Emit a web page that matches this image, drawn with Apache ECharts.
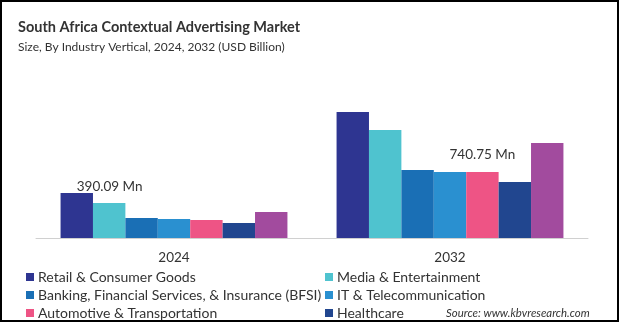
<!DOCTYPE html>
<html><head><meta charset="utf-8">
<script src="https://cdn.jsdelivr.net/npm/echarts@6/dist/echarts.min.js"></script>
<style>html,body{margin:0;padding:0;background:#fff}#c{width:620px;height:323px}</style>
</head><body><div id="c"></div>
<script>
const categories = ['2024', '2032'];
const seriesNames = ['Retail & Consumer Goods', 'Media & Entertainment', 'Banking, Financial Services, & Insurance (BFSI)', 'IT & Telecommunication', 'Automotive & Transportation', 'Healthcare', 'Others'];
const colors = ['#2E3591', '#4FC3CF', '#1A6FB5', '#2A90D0', '#EE5485', '#21468F', '#A24B9E'];
const retail = [390.09, 1092];
const media = [303, 936];
const bfsi = [173, 589];
const it = [165, 572];
const auto = [156, 572];
const health = [130, 485];
const others = [225, 823];
const values = [retail, media, bfsi, it, auto, health, others];
const annotations = [{s: 0, c: 0, text: '390.09 Mn'}, {s: 4, c: 1, text: '740.75 Mn'}];

const chart = echarts.init(document.getElementById('c'));
const font = 'Lato, "Open Sans", sans-serif';
const series = values.map((v, i) => ({
  name: seriesNames[i], type: 'bar', barGap: '0%', barCategoryGap: '17.8%',
  itemStyle: {color: colors[i]},
  data: v.map((val, c) => {
    const a = annotations.find(x => x.s === i && x.c === c);
    if (!a) return val;
    return {value: val, label: {show: true, position: 'top',
      align: i === 0 ? 'left' : 'center',
      distance: i === 0 ? -1 : 10,
      formatter: a.text, color: '#333', fontSize: 13.5, fontFamily: font}};
  })
}));
const legendText = {fontSize: 14, color: '#333', lineHeight: 14, fontFamily: font, padding: [0, 0, 0, -1]};
chart.setOption({
  animation: false,
  title: [{text: 'South Africa Contextual Advertising Market', left: 13, top: 15,
    textStyle: {fontSize: 14.5, fontWeight: 'bold', color: '#333', fontFamily: font}},
    {text: 'Size, By Industry Vertical, 2024, 2032 (USD Billion)', left: 13, top: 36,
    textStyle: {fontSize: 12, fontWeight: 'normal', color: '#333', fontFamily: font}},
    {text: 'Source: www.kbvresearch.com', left: 441, top: 303,
    textStyle: {fontSize: 11.4, fontWeight: 'normal', fontStyle: 'italic', color: '#333', fontFamily: font}}],
  grid: {left: 36, right: 32, top: 88, bottom: 85},
  xAxis: {type: 'category', data: categories,
    axisLine: {lineStyle: {color: '#d0d0d0'}}, axisTick: {show: false},
    axisLabel: {fontSize: 13.5, color: '#333', margin: 13, fontFamily: font}},
  yAxis: {type: 'value', min: 0, max: 1300, show: false, splitLine: {show: false}},
  legend: [
    {orient: 'vertical', left: 26, top: 270, padding: 0, itemWidth: 8, itemHeight: 8, itemGap: 4, icon: 'rect',
     data: [seriesNames[0], seriesNames[2], seriesNames[4]], textStyle: legendText},
    {orient: 'vertical', left: 325, top: 270, padding: 0, itemWidth: 8, itemHeight: 8, itemGap: 4, icon: 'rect',
     data: [seriesNames[1], seriesNames[3], seriesNames[5]], textStyle: legendText}
  ],
  graphic: [{type: 'rect', shape: {x: 1, y: 1, width: 617, height: 320}, style: {fill: 'none', stroke: '#000', lineWidth: 2}, silent: true}],
  series: series
});
</script></body></html>
